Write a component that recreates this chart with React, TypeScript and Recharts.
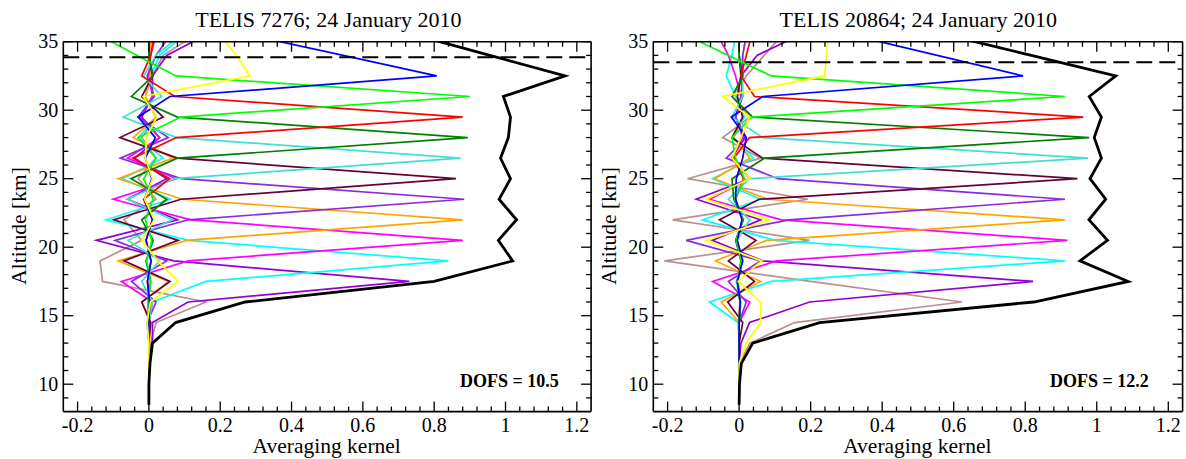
import React from 'react';
import { LineChart, Line, XAxis, YAxis, ReferenceLine } from 'recharts';

// Altitude grid (km) of the retrieval
const ALT = [8.5, 10, 11.5, 13, 14.5, 16, 17.5, 19, 20.5, 22, 23.5, 25, 26.5, 28, 29.5, 31, 32.5, 34, 35.5];

// ---- TELIS 7276 (left panel) ----
const L_SUM = [0, 0, 0.003, 0.01, 0.075, 0.27, 0.8, 1.02, 0.98, 1.031, 0.982, 1.014, 0.986, 1.008, 1.014, 0.994, 1.167, 0.956, 0.746];
const L_YELLOW = [0, 0, 0, 0, -0.005, 0.004, 0.082, 0.025, -0.02, 0.015, -0.012, 0.01, -0.01, -0.007, 0.022, -0.016, 0.283, 0.245, 0.2];
const L_BLUE = [0, 0, 0, 0, 0, 0.002, -0.004, 0.006, -0.008, 0.01, -0.012, 0.008, -0.01, 0.018, -0.03, 0.059, 0.807, 0.545, 0.28];
const L_LIME = [0, 0, 0, 0, 0, -0.003, 0.005, -0.006, 0.008, -0.01, 0.012, -0.015, 0.02, -0.03, 0.09, 0.9, 0.076, -0.033, -0.141];
const L_RED = [0, 0, 0, 0, 0, 0.002, -0.004, 0.006, -0.008, 0.01, -0.015, 0.058, -0.045, 0.077, 0.88, 0.073, -0.02, 0.005, 0.015];
const L_DKGREEN = [0, 0, 0, 0, 0, -0.003, 0.005, -0.008, 0.012, -0.02, 0.05, -0.05, 0.08, 0.894, 0.08, -0.049, 0.012, 0, 0];
const L_TURQ = [0, 0, 0, 0, 0, 0.01, -0.02, 0.03, -0.058, 0.066, -0.06, 0.07, 0.874, 0.078, -0.072, 0.036, -0.015, 0.02, 0.09];
const L_MAROON = [0, 0, 0, 0, 0.005, -0.02, 0.059, -0.07, 0.082, -0.098, 0.09, 0.861, 0.08, -0.081, 0.04, -0.02, 0.01, 0, 0];
const L_BLUEVIOLET = [0, 0, 0, 0, -0.005, 0.02, -0.049, 0.05, -0.095, 0.11, 0.884, 0.092, -0.08, 0.054, -0.03, 0.015, -0.005, 0.02, 0.06];
const L_ORANGE = [0, 0, 0, 0, 0.005, -0.02, 0.055, -0.086, 0.106, 0.88, 0.094, -0.086, 0.068, -0.044, 0.02, -0.01, 0.005, 0, 0.01];
const L_MAGENTA = [0, 0, 0, 0, 0, 0.01, -0.077, 0.11, 0.88, 0.118, -0.1, 0.077, -0.06, 0.03, -0.025, 0.01, 0, 0.005, 0.02];
const L_CYAN = [0, 0, 0, 0, 0, 0.009, 0.16, 0.84, 0.11, -0.12, 0.06, -0.074, 0.04, -0.03, 0.02, -0.01, 0.005, 0.03, 0.1];
const L_DKVIOLET = [0, 0, 0, 0.01, 0.01, 0.11, 0.73, 0.07, -0.147, 0.08, -0.06, 0.05, -0.04, 0.03, -0.02, 0.01, 0.01, 0.05, 0.16];
const L_BROWN = [0, 0, 0, 0.005, 0.02, 0.16, -0.13, -0.137, -0.02, -0.07, 0.02, -0.03, 0.02, -0.02, 0.02, -0.01, 0.01, 0.04, 0.13];

// ---- TELIS 20864 (right panel) ----
const R_SUM = [0, 0.001, 0.006, 0.038, 0.225, 0.824, 1.088, 0.953, 1.03, 0.978, 1.025, 0.981, 1.013, 0.993, 1.013, 0.979, 1.053, 0.817, 0.58];
const R_YELLOW = [0, 0, 0, 0.02, 0.06, 0.06, -0.003, 0.063, -0.092, 0.085, -0.092, 0.03, -0.02, 0.005, 0.029, -0.046, 0.239, 0.244, 0.25];
const R_BLUE = [0, 0, 0, 0, 0, 0.003, -0.005, 0.01, -0.005, 0.008, -0.01, -0.008, 0.01, 0.02, -0.022, 0.066, 0.794, 0.554, 0.313];
const R_LIME = [0, 0, 0, 0, 0, 0.003, -0.004, 0.006, -0.008, 0.01, -0.012, 0.015, -0.01, -0.02, 0.034, 0.911, 0.09, -0.03, -0.15];
const R_RED = [0, 0, 0, 0, 0, 0.002, -0.003, 0.005, -0.008, 0.01, -0.01, 0.012, -0.015, 0.029, 0.962, 0.043, 0.005, 0.02, 0.035];
const R_DKGREEN = [0, 0, 0, 0, 0, 0.003, -0.005, 0.006, -0.01, 0.012, -0.015, -0.02, 0.071, 0.979, 0.038, -0.02, 0.01, 0, 0];
const R_TURQ = [0, 0, 0, 0, 0, 0.005, -0.008, 0.01, -0.006, 0.03, -0.03, 0.029, 0.976, 0.066, -0.02, 0.01, 0.01, 0, 0];
const R_MAROON = [0, 0, 0, 0, 0.01, -0.032, 0.043, -0.03, 0.047, -0.055, 0.056, 0.946, 0.066, -0.02, 0.01, -0.005, 0.005, 0, 0];
const R_BLUEVIOLET = [0, 0, 0, 0, 0, 0.02, -0.03, 0.06, -0.148, 0.14, 0.911, 0.108, -0.036, 0.02, -0.01, 0.005, 0.01, 0.01, 0.02];
const R_ORANGE = [0, 0, 0, 0, 0, -0.05, 0.06, -0.066, 0.077, 0.911, 0.08, -0.069, 0.03, -0.015, 0.01, -0.005, 0.005, 0.01, 0.02];
const R_MAGENTA = [0, 0, 0, 0, 0, 0.03, -0.074, 0.104, 0.918, 0.118, -0.083, 0.03, -0.02, 0.01, -0.01, 0.005, -0.01, -0.03, -0.06];
const R_CYAN = [0, 0, 0, 0, -0.003, -0.083, 0.09, 0.911, 0.1, -0.102, 0.06, -0.074, 0.04, -0.02, 0.015, -0.01, -0.036, -0.02, -0.01];
const R_DKVIOLET = [0, 0, 0, 0.005, 0.029, 0.197, 0.822, 0.066, -0.075, 0.06, -0.12, 0.03, -0.02, 0.015, -0.01, 0.01, 0.005, 0.05, 0.17];
const R_BROWN = [0, 0, 0, 0.03, 0.155, 0.623, 0.2, -0.209, 0.197, -0.186, 0.192, -0.144, 0.06, -0.046, 0.03, -0.02, 0.02, 0.07, 0.12];

// Flight altitude (dashed line) per panel
const L_FLIGHT_ALT = 33.86;
const R_FLIGHT_ALT = 33.5;

// Axes
const X_DOMAIN = [-0.24, 1.24];
const Y_DOMAIN = [8, 35];
const X_TICKS = [-0.2, -0.16, -0.12, -0.08, -0.04, 0, 0.04, 0.08, 0.12, 0.16, 0.2, 0.24, 0.28, 0.32, 0.36, 0.4, 0.44, 0.48, 0.52, 0.56, 0.6, 0.64, 0.68, 0.72, 0.76, 0.8, 0.84, 0.88, 0.92, 0.96, 1, 1.04, 1.08, 1.12, 1.16, 1.2];
const X_MAJOR = [-0.2, 0, 0.2, 0.4, 0.6, 0.8, 1, 1.2];
const Y_TICKS = [9, 10, 11, 12, 13, 14, 15, 16, 17, 18, 19, 20, 21, 22, 23, 24, 25, 26, 27, 28, 29, 30, 31, 32, 33, 34, 35];
const Y_MAJOR = [10, 15, 20, 25, 30, 35];

const COLORS = {
  yellow: '#ffff00', blue: '#0000ff', lime: '#00ff00', red: '#ff0000', dkgreen: '#008000',
  turq: '#40e0d0', maroon: '#660038', blueviolet: '#8a2be2', orange: '#ffa500', magenta: '#ff00ff',
  cyan: '#00ffff', dkviolet: '#9400d3', brown: '#bc8f8f', black: '#000000',
};

const FONT = "'Liberation Serif', 'Times New Roman', Times, serif";
const MAJOR_LEN = 10;
const MINOR_LEN = 5;
const TICK_W = 1.3;
const KW = 1.7; // kernel line width
const SW = 2.8; // response (sum) line width

const isMajor = (v: number, majors: number[]) => majors.some((m) => Math.abs(m - v) < 1e-6);

function BottomTick(props: any) {
  const { x, y, payload } = props;
  const major = isMajor(payload.value, X_MAJOR);
  return (
    <g>
      <line x1={x} x2={x} y1={y} y2={y - (major ? MAJOR_LEN : MINOR_LEN)} stroke="#000" strokeWidth={TICK_W} />
      {major && (
        <text x={x} y={y + 20} textAnchor="middle" fontSize={20} fontFamily={FONT} fill="#000">
          {String(payload.value)}
        </text>
      )}
    </g>
  );
}

function TopTick(props: any) {
  const { x, y, payload } = props;
  const major = isMajor(payload.value, X_MAJOR);
  return <line x1={x} x2={x} y1={y} y2={y + (major ? MAJOR_LEN : MINOR_LEN)} stroke="#000" strokeWidth={TICK_W} />;
}

function LeftTick(props: any) {
  const { x, y, payload } = props;
  const major = isMajor(payload.value, Y_MAJOR);
  return (
    <g>
      <line x1={x} x2={x + (major ? MAJOR_LEN : MINOR_LEN)} y1={y} y2={y} stroke="#000" strokeWidth={TICK_W} />
      {major && (
        <text x={x - 5} y={y + 6.5} textAnchor="end" fontSize={20} fontFamily={FONT} fill="#000">
          {String(payload.value)}
        </text>
      )}
    </g>
  );
}

function RightTick(props: any) {
  const { x, y, payload } = props;
  const major = isMajor(payload.value, Y_MAJOR);
  return <line x1={x} x2={x - (major ? MAJOR_LEN : MINOR_LEN)} y1={y} y2={y} stroke="#000" strokeWidth={TICK_W} />;
}

type Series = { key: string; color: string; values: number[]; width: number };

const L_SERIES: Series[] = [
  { key: 'brown', color: COLORS.brown, values: L_BROWN, width: KW },
  { key: 'dkviolet', color: COLORS.dkviolet, values: L_DKVIOLET, width: KW },
  { key: 'cyan', color: COLORS.cyan, values: L_CYAN, width: KW },
  { key: 'magenta', color: COLORS.magenta, values: L_MAGENTA, width: KW },
  { key: 'orange', color: COLORS.orange, values: L_ORANGE, width: KW },
  { key: 'blueviolet', color: COLORS.blueviolet, values: L_BLUEVIOLET, width: KW },
  { key: 'maroon', color: COLORS.maroon, values: L_MAROON, width: KW },
  { key: 'turq', color: COLORS.turq, values: L_TURQ, width: KW },
  { key: 'dkgreen', color: COLORS.dkgreen, values: L_DKGREEN, width: KW },
  { key: 'red', color: COLORS.red, values: L_RED, width: KW },
  { key: 'lime', color: COLORS.lime, values: L_LIME, width: KW },
  { key: 'blue', color: COLORS.blue, values: L_BLUE, width: KW },
  { key: 'yellow', color: COLORS.yellow, values: L_YELLOW, width: KW },
  { key: 'sum', color: COLORS.black, values: L_SUM, width: SW },
];

const R_SERIES: Series[] = [
  { key: 'brown', color: COLORS.brown, values: R_BROWN, width: KW },
  { key: 'dkviolet', color: COLORS.dkviolet, values: R_DKVIOLET, width: KW },
  { key: 'cyan', color: COLORS.cyan, values: R_CYAN, width: KW },
  { key: 'magenta', color: COLORS.magenta, values: R_MAGENTA, width: KW },
  { key: 'orange', color: COLORS.orange, values: R_ORANGE, width: KW },
  { key: 'blueviolet', color: COLORS.blueviolet, values: R_BLUEVIOLET, width: KW },
  { key: 'maroon', color: COLORS.maroon, values: R_MAROON, width: KW },
  { key: 'turq', color: COLORS.turq, values: R_TURQ, width: KW },
  { key: 'dkgreen', color: COLORS.dkgreen, values: R_DKGREEN, width: KW },
  { key: 'red', color: COLORS.red, values: R_RED, width: KW },
  { key: 'lime', color: COLORS.lime, values: R_LIME, width: KW },
  { key: 'blue', color: COLORS.blue, values: R_BLUE, width: KW },
  { key: 'yellow', color: COLORS.yellow, values: R_YELLOW, width: KW },
  { key: 'sum', color: COLORS.black, values: R_SUM, width: SW },
];

const AXIS_LINE = { stroke: '#000', strokeWidth: 1.6 };

function Panel(props: { series: Series[]; flightAlt: number; width: number; margin: any }) {
  const { series, flightAlt, width, margin } = props;
  const data = ALT.map((a, i) => {
    const row: Record<string, number> = { alt: a };
    series.forEach((s) => {
      row[s.key] = s.values[i];
    });
    return row;
  });
  return (
    <LineChart layout="vertical" width={width} height={459} data={data} margin={margin}>
      <XAxis
        type="number"
        orientation="bottom"
        domain={X_DOMAIN}
        allowDataOverflow
        ticks={X_TICKS}
        interval={0}
        tickSize={0}
        tickMargin={0}
        tickLine={false}
        axisLine={AXIS_LINE}
        tick={BottomTick}
        height={30}
      />
      <XAxis
        xAxisId="top"
        type="number"
        orientation="top"
        domain={X_DOMAIN}
        allowDataOverflow
        ticks={X_TICKS}
        interval={0}
        tickSize={0}
        tickMargin={0}
        tickLine={false}
        axisLine={AXIS_LINE}
        tick={TopTick}
        height={1}
      />
      <YAxis
        type="number"
        dataKey="alt"
        orientation="left"
        reversed
        domain={Y_DOMAIN}
        allowDataOverflow
        ticks={Y_TICKS}
        interval={0}
        tickSize={0}
        tickMargin={0}
        tickLine={false}
        axisLine={AXIS_LINE}
        tick={LeftTick}
        width={40}
      />
      <YAxis
        yAxisId="right"
        type="number"
        dataKey="alt"
        orientation="right"
        reversed
        domain={Y_DOMAIN}
        allowDataOverflow
        ticks={Y_TICKS}
        interval={0}
        tickSize={0}
        tickMargin={0}
        tickLine={false}
        axisLine={AXIS_LINE}
        tick={RightTick}
        width={1}
      />
      {series.map((s) => (
        <Line
          key={s.key}
          type="linear"
          dataKey={s.key}
          stroke={s.color}
          strokeWidth={s.width}
          dot={false}
          activeDot={false}
          isAnimationActive={false}
        />
      ))}
      <ReferenceLine y={flightAlt} stroke="#000" strokeWidth={2} strokeDasharray="16 7" />
    </LineChart>
  );
}

export default function App() {
  const textStyle = { fontFamily: FONT, fill: '#000' } as const;
  return (
    <div style={{ position: 'absolute', left: 0, top: 0, width: 1186, height: 459, background: '#fff' }}>
      <div style={{ position: 'absolute', left: 0, top: 0 }}>
        <Panel series={L_SERIES} flightAlt={L_FLIGHT_ALT} width={600} margin={{ top: 40.7, left: 23.3, right: 7.9, bottom: 17.4 }} />
      </div>
      <div style={{ position: 'absolute', left: 600, top: 0 }}>
        <Panel series={R_SERIES} flightAlt={R_FLIGHT_ALT} width={586} margin={{ top: 40.7, left: 13.3, right: 2.4, bottom: 17.4 }} />
      </div>
      <svg width={1186} height={459} style={{ position: 'absolute', left: 0, top: 0, pointerEvents: 'none' }}>
        <text x={328.4} y={27.3} textAnchor="middle" fontSize={22} {...textStyle}>TELIS 7276; 24 January 2010</text>
        <text x={918.3} y={27.3} textAnchor="middle" fontSize={22} {...textStyle}>TELIS 20864; 24 January 2010</text>
        <text x={326.7} y={453} textAnchor="middle" fontSize={21.5} {...textStyle}>Averaging kernel</text>
        <text x={917.3} y={453} textAnchor="middle" fontSize={21.5} {...textStyle}>Averaging kernel</text>
        <text transform="translate(26,226) rotate(-90)" textAnchor="middle" fontSize={21.5} {...textStyle}>Altitude [km]</text>
        <text transform="translate(616,226) rotate(-90)" textAnchor="middle" fontSize={21.5} {...textStyle}>Altitude [km]</text>
        <text x={460} y={387} fontSize={18} fontWeight="bold" {...textStyle}>DOFS = 10.5</text>
        <text x={1050} y={387} fontSize={18} fontWeight="bold" {...textStyle}>DOFS = 12.2</text>
      </svg>
    </div>
  );
}
